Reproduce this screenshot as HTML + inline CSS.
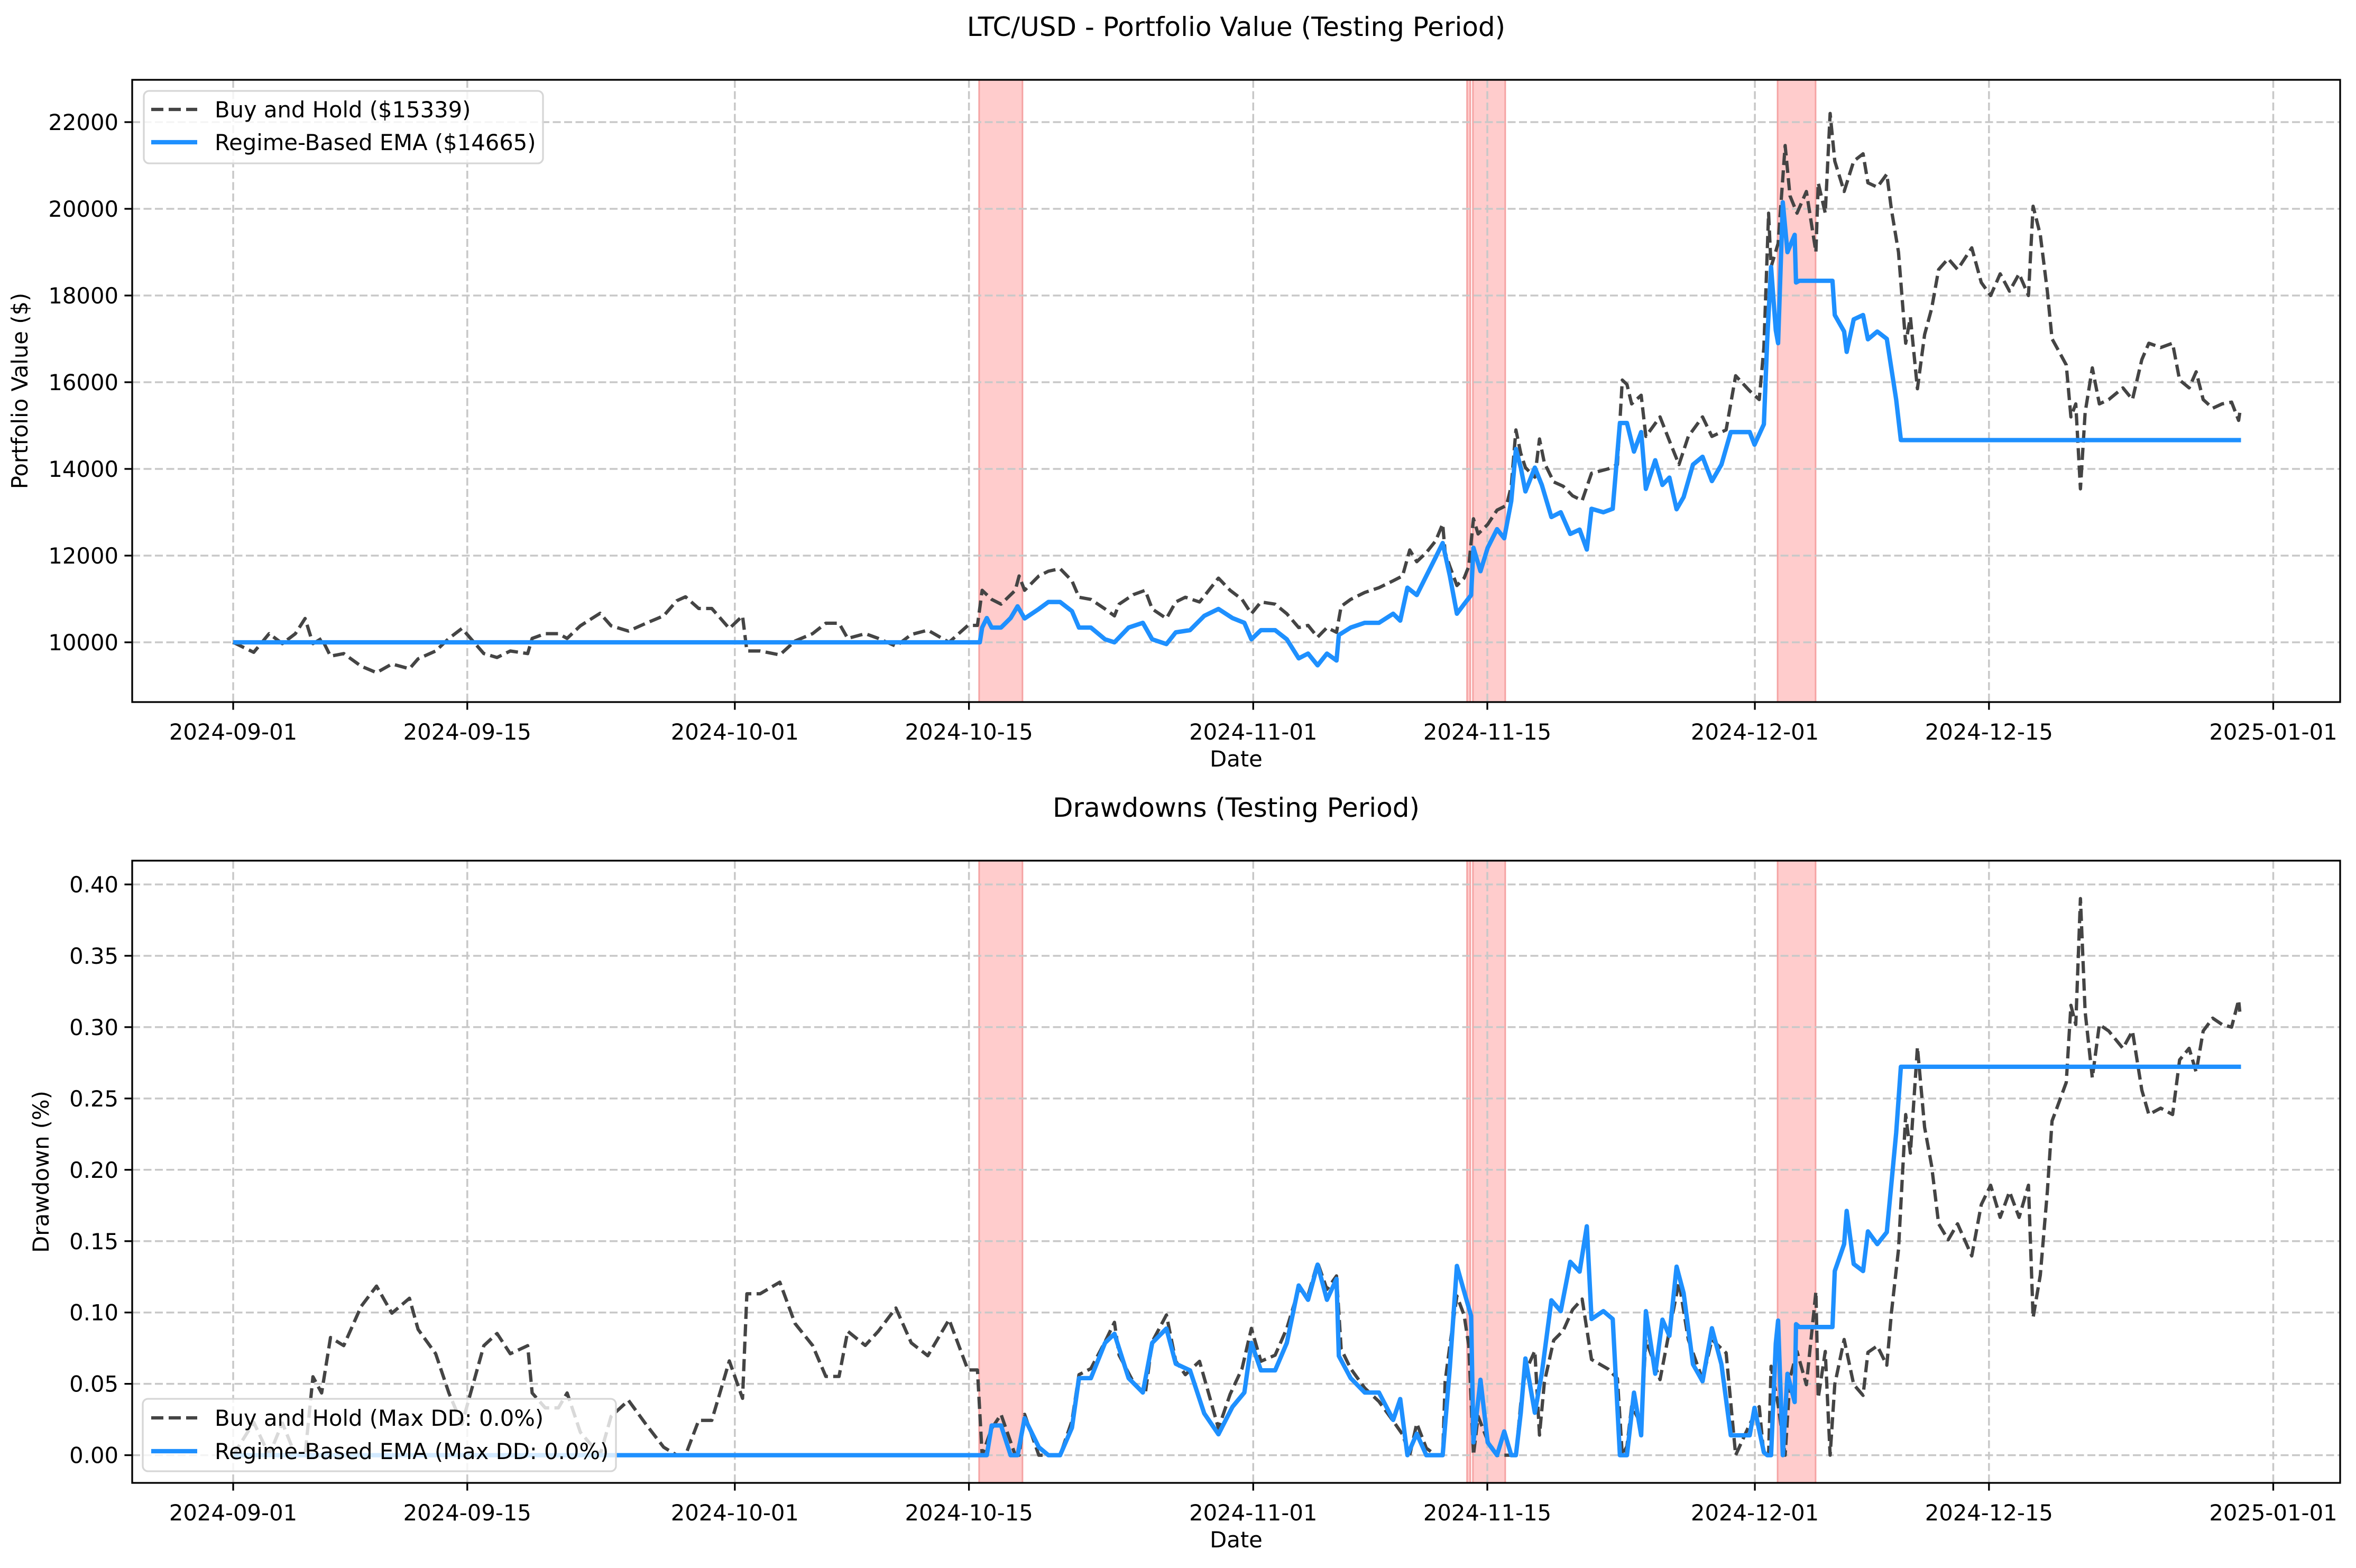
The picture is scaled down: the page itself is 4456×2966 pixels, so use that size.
<!DOCTYPE html>
<html><head><meta charset="utf-8"><style>
html,body{margin:0;padding:0;background:#fff;}
svg{display:block;font-family:"DejaVu Sans","Liberation Sans",sans-serif;}
</style></head><body>
<svg id="fig" width="4456" height="2966" viewBox="0 0 4456 2966" xmlns="http://www.w3.org/2000/svg">
<rect x="0" y="0" width="4456" height="2966" fill="#fff"/>
<defs>
<clipPath id="clipTop"><rect x="250" y="151" width="4176" height="1177"/></clipPath>
<clipPath id="clipBot"><rect x="250" y="1628" width="4176" height="1177"/></clipPath>
</defs>
<g id="top"></g>
<g id="bot"></g>
</svg>
<script>
// ---- data (x = days since 2024-09-01) ----
const xTickDays = [0, 14, 30, 44, 61, 75, 91, 105, 122];
const xTickLabels = ["2024-09-01","2024-09-15","2024-10-01","2024-10-15","2024-11-01","2024-11-15","2024-12-01","2024-12-15","2025-01-01"];
const topYTicks = [10000, 12000, 14000, 16000, 18000, 20000, 22000];
const botYTicks = [0, 0.05, 0.10, 0.15, 0.20, 0.25, 0.30, 0.35, 0.40];
const regimeSpans = [[44.61, 47.2], [73.79, 73.98], [74.14, 76.07], [92.36, 94.63]];
const bhDays = [0,1.23,2.15,2.94,3.72,4.30,4.77,5.29,5.82,6.61,7.65,8.57,9.49,10.54,11.06,12.11,12.90,13.68,14.47,14.99,15.78,16.57,17.61,17.88,18.66,19.45,19.97,20.76,21.94,22.60,23.64,24.69,25.74,26.53,27.05,27.84,28.62,29.15,29.67,30.46,30.72,31.51,32.69,33.60,34.65,35.44,36.23,36.75,37.80,38.58,39.63,40.55,41.54,42.81,43.94,44.51,44.79,45.36,45.92,46.77,47.0,47.33,48.18,48.75,49.45,50.16,50.58,51.29,52.14,52.70,52.98,53.83,54.54,54.96,55.81,56.37,56.94,57.79,58.35,58.92,59.62,60.33,60.89,61.46,62.31,63.01,63.72,64.28,64.85,65.41,65.98,66.26,66.83,67.67,68.52,69.37,69.93,70.36,70.78,71.35,71.91,72.33,72.48,72.76,73.18,73.61,73.89,74.17,74.45,75.02,75.58,76.15,76.43,76.71,77.00,77.28,77.84,78.12,78.41,78.97,79.54,80.10,80.67,81.23,82.22,82.78,83.07,83.35,83.63,84.2,84.48,85.33,85.89,86.46,87.02,87.87,88.43,89.28,89.85,90.69,91.26,91.54,91.82,91.97,92.39,92.81,93.1,93.52,94.08,94.65,94.79,95.21,95.5,95.78,96.34,96.91,97.47,97.76,98.32,98.89,99.17,99.59,99.73,100.02,100.3,100.72,101.15,101.57,101.99,102.56,103.12,103.97,104.54,105.1,105.67,106.23,106.8,107.36,107.64,108.07,108.49,108.77,109.06,109.62,109.9,110.19,110.47,110.75,111.18,111.6,112.16,113.01,113.58,114.14,114.56,115.27,115.98,116.4,116.97,117.39,117.81,118.38,118.94,119.51,119.93,120.0];
const bhValues = [10000,9770,10200,9970,10200,10550,9970,10090,9680,9740,9450,9300,9500,9390,9620,9800,10090,10320,9970,9740,9650,9800,9740,10090,10200,10200,10090,10380,10670,10380,10260,10440,10610,10960,11050,10780,10780,10550,10320,10610,9800,9800,9710,10030,10200,10440,10440,10090,10200,10090,9910,10180,10280,10000,10390,10390,11200,10990,10880,11200,11530,11200,11530,11640,11700,11420,11040,10990,10770,10610,10880,11100,11200,10770,10550,10930,11040,10930,11200,11480,11200,10990,10660,10930,10880,10660,10340,10390,10120,10340,10230,10830,10990,11150,11260,11420,11530,12130,11860,12070,12340,12730,12070,11750,11310,11480,11750,12850,12500,12720,13050,13160,13600,14900,14360,14030,13810,14690,14140,13700,13600,13380,13270,13900,14000,14100,16050,15950,15500,15700,14750,15200,14650,14100,14750,15200,14750,14900,16150,15800,15600,16800,19900,18660,19200,21460,20300,19900,20400,19000,20600,19900,22200,21100,20400,21100,21270,20600,20500,20800,19970,19000,18300,16900,17500,15850,17100,17700,18600,18850,18600,19100,18300,18000,18500,18100,18500,18000,20060,19400,18100,17000,16800,16400,15200,15500,13540,15300,16330,15500,15600,15870,15600,16520,16900,16800,16900,16050,15870,16240,15600,15400,15500,15540,15120,15300];
const emaDays = [0,44.65,44.79,45.07,45.36,45.92,46.49,46.91,47.33,48.18,48.75,49.45,50.16,50.58,51.29,52.14,52.70,53.55,54.4,54.96,55.81,56.37,57.22,58.07,58.92,59.76,60.47,60.89,61.46,62.31,63.01,63.72,64.28,64.85,65.41,65.98,66.12,66.83,67.67,68.52,69.37,69.79,70.22,70.78,71.35,71.91,72.33,72.76,73.18,73.61,74.03,74.17,74.59,75.02,75.58,76.01,76.43,76.71,77.0,77.28,77.84,78.26,78.83,79.39,79.96,80.52,80.95,81.23,81.94,82.5,82.93,83.35,83.77,84.2,84.48,85.04,85.47,85.89,86.32,86.74,87.3,87.87,88.43,89.0,89.56,90.13,90.69,90.98,91.54,91.74,91.97,92.25,92.39,92.67,92.95,93.38,93.46,93.66,95.64,95.78,96.34,96.49,96.91,97.47,97.76,98.32,98.89,99.45,99.73,120.07];
const emaValues = [10000,10000,10340,10560,10340,10340,10560,10830,10550,10770,10930,10930,10720,10340,10340,10070,10000,10340,10450,10070,9960,10230,10280,10610,10770,10560,10450,10070,10280,10280,10070,9630,9740,9470,9740,9580,10170,10340,10450,10450,10660,10500,11260,11090,11530,11960,12290,11530,10660,10880,11090,12180,11640,12180,12610,12400,13260,14460,14030,13480,14030,13630,12890,13000,12500,12600,12140,13080,13000,13080,15060,15060,14400,14850,13540,14200,13630,13800,13070,13350,14100,14280,13720,14100,14850,14850,14850,14560,15030,17000,18660,17200,16900,20150,19000,19400,18300,18340,18340,17550,17170,16700,17450,17550,16990,17170,17000,15600,14665,14665];

// ---- scales ----
const NS = "http://www.w3.org/2000/svg";
const X0 = 250, X1 = 4426, DMIN = -6.04, DMAX = 126.0;
const xS = d => X0 + (d - DMIN) / (DMAX - DMIN) * (X1 - X0);
const yTop = v => 1215 - (v - 10000) * 0.082;
const yBot = v => 2752.6 - v * 2699;
function el(tag, attrs, parent, text){
  const e = document.createElementNS(NS, tag);
  for (const k in attrs) e.setAttribute(k, attrs[k]);
  if (text !== undefined) e.textContent = text;
  parent.appendChild(e);
  return e;
}
function drawdown(vals){
  let m = -Infinity; return vals.map(v => { m = Math.max(m, v); return 1 - v / m; });
}
function pathD(days, vals, ys){
  return days.map((d,i)=>(i?"L":"M")+xS(d).toFixed(1)+","+ys(vals[i]).toFixed(1)).join("");
}

function axes(g, top, bottom, yTicks, ys, fmt, clip, title, ylabel, ylabelX, series, legendBox, legendLabels){
  const t = el("text",{x:2338,y:top-83,"text-anchor":"middle","font-size":50,fill:"#000"},g,title);
  
  
  const sg = el("g",{"clip-path":"url(#"+clip+")"},g);
  
  
  regimeSpans.forEach(s=>{
    const r = el("rect",{x:xS(s[0]),y:top,width:xS(s[1])-xS(s[0]),height:bottom-top,fill:"#ffcccc",stroke:"#f5a3a3","stroke-width":3},sg);
    
    
  });
  const gg = el("g",{stroke:"#c8c8c8","stroke-width":3.5,"stroke-dasharray":"15,6.5"},g);
  
  
  xTickDays.forEach(d=>el("line",{x1:xS(d),x2:xS(d),y1:top,y2:bottom},gg));
  yTicks.forEach(v=>el("line",{x1:X0,x2:X1,y1:ys(v),y2:ys(v)},gg));
  const lg = el("g",{"clip-path":"url(#"+clip+")",fill:"none","stroke-linejoin":"round"},g);
  series.forEach(s=>{
    const p = el("path",{d:s.d,stroke:s.color,"stroke-width":s.w,"stroke-dasharray":s.dash||"none"},lg);
    
    
  });
  const sp = el("rect",{x:X0,y:top,width:X1-X0,height:bottom-top,fill:"none",stroke:"#000","stroke-width":3.3},g);
  
  
  const xg = el("g",{},g);
  
  
  xTickDays.forEach((d,i)=>{
    el("line",{x1:xS(d),x2:xS(d),y1:bottom,y2:bottom+14.6,stroke:"#000","stroke-width":3.3},xg);
    const tl = el("text",{x:xS(d),y:bottom+71,"text-anchor":"middle","font-size":41.7,fill:"#000"},xg,xTickLabels[i]);
    
    
  });
  const xl = el("text",{x:2338,y:bottom+122,"text-anchor":"middle","font-size":41.7,fill:"#000"},g,"Date");
  
  
  const yg = el("g",{},g);
  
  
  yTicks.forEach(v=>{
    el("line",{x1:X0-14.6,x2:X0,y1:ys(v),y2:ys(v),stroke:"#000","stroke-width":3.3},yg);
    const tl = el("text",{x:X0-26,y:ys(v)+15,"text-anchor":"end","font-size":41.7,fill:"#000"},yg,fmt(v));
    
    
  });
  const cy = (top+bottom)/2;
  const yl = el("text",{x:ylabelX,y:cy,"text-anchor":"middle","font-size":41.7,fill:"#000",transform:"rotate(-90 "+ylabelX+" "+cy+")"},g,ylabel);
  
  
  const L = legendBox;
  const lgd = el("g",{},g);
  
  
  el("rect",{x:L.x,y:L.y,width:L.w,height:L.h,rx:10,fill:"#fff","fill-opacity":0.8,stroke:"#d6d6d6","stroke-width":3.3},lgd);
  const entries = [
    {y:L.e1, color:"#444444", dash:"23,10", w:6.25},
    {y:L.e2, color:"#1e90ff", dash:"none", w:8.3}
  ];
  entries.forEach((e,i)=>{
    const li = el("g",{},lgd);
    
    
    el("line",{x1:286,x2:373,y1:e.y,y2:e.y,stroke:e.color,"stroke-width":e.w,"stroke-dasharray":e.dash},li);
    el("text",{x:406,y:e.y+15,"font-size":41.7,fill:"#000"},li,legendLabels[i]);
  });
}

const topG = document.getElementById("top");
axes(topG,151,1328,topYTicks,yTop,v=>String(v),"clipTop","LTC/USD - Portfolio Value (Testing Period)","Portfolio Value ($)",52,
  [{d:pathD(bhDays,bhValues,yTop),color:"#444444",w:6.25,dash:"23,10",name:"buy-and-hold-line"},
   {d:pathD(emaDays,emaValues,yTop),color:"#1e90ff",w:8.3,name:"regime-ema-line"}],
  {x:272,y:172,w:755,h:137,e1:207,e2:269},
  ["Buy and Hold ($15339)","Regime-Based EMA ($14665)"]);

const botG = document.getElementById("bot");
axes(botG,1628,2805,botYTicks,yBot,v=>v.toFixed(2),"clipBot","Drawdowns (Testing Period)","Drawdown (%)",92,
  [{d:pathD(bhDays,drawdown(bhValues),yBot),color:"#444444",w:6.25,dash:"23,10",name:"buy-and-hold-drawdown"},
   {d:pathD(emaDays,drawdown(emaValues),yBot),color:"#1e90ff",w:8.3,name:"regime-ema-drawdown"}],
  {x:270,y:2646,w:895,h:137,e1:2682,e2:2745},
  ["Buy and Hold (Max DD: 0.0%)","Regime-Based EMA (Max DD: 0.0%)"]);
</script>
</body></html>
